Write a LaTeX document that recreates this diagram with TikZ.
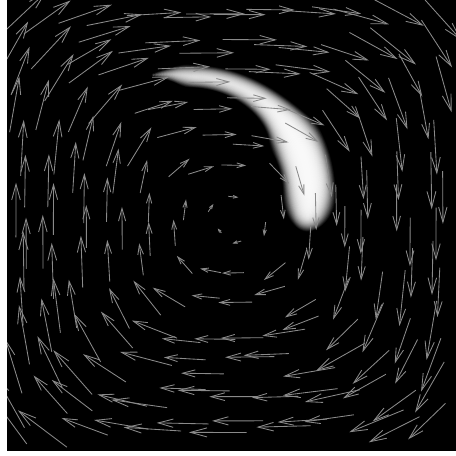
\documentclass[tikz,border=0pt]{standalone}
\usepackage{tikz}
\usetikzlibrary{arrows.meta,fadings}

\tikzfading[name=glow, inner color=transparent!0, outer color=transparent!100]

\begin{document}
\begin{tikzpicture}[
  x=1pt, y=-1pt,
  field/.style={fill=black},
  blob/.style={fill=white, opacity=0.32, path fading=glow},
  vec/.style={draw=white!54!black, line width=0.85pt},
]
\useasboundingbox (0,0) rectangle (456,456);
\fill[white] (0,0) rectangle (456,456);
\fill[field] (7,0) rectangle (456,451);

\foreach \t in {-11,...,107} {
  \pgfmathsetmacro\rise{sin(90*min(1,(\t+13)/13))}
  \pgfmathsetmacro\decay{exp(-max(0,\t-28)/20)}
  \pgfmathsetmacro\taper{min(1,(110-\t)/18)}
  \pgfmathsetmacro\h{\taper*(\rise*(1+16*\decay)+10)}
  \pgfmathsetmacro\rr{119+max(0,\t-90)*0.4}
  \pgfmathsetmacro\cx{190+\rr*cos(\t)}
  \pgfmathsetmacro\cy{195-\rr*sin(\t)}
  \fill[blob] (\cx,\cy) circle (\h pt);
}

\begin{scope}
\clip (7,0) rectangle (456,451);
\pgfmathsetseed{11}
\foreach \i in {0,...,13} \foreach \j in {0,...,13} {
  \pgfmathsetmacro\px{18+32*\i+10*rand}
  \pgfmathsetmacro\py{12+32*\j+10*rand}
  \pgfmathsetmacro\ux{(\px-230)/100}
  \pgfmathsetmacro\uy{(\py-222)/100}
  \pgfmathsetmacro\gx{\ux*(\ux*\ux+0.15)}
  \pgfmathsetmacro\gy{\uy*(\uy*\uy+0.15)}
  \pgfmathsetmacro\gn{sqrt(\gx*\gx+\gy*\gy)+0.0001}
  \pgfmathsetmacro\len{64*tanh(veclen(\ux,\uy)/1.3)*(0.9+0.1*rand)}
  \pgfmathsetmacro\dx{-\gy/\gn*\len}
  \pgfmathsetmacro\dy{\gx/\gn*\len}
  \pgfmathsetmacro\ax{\px-0.5*\dx}
  \pgfmathsetmacro\ay{\py-0.5*\dy}
  \pgfmathsetmacro\hl{0.26*\len+1.5}
  \pgfmathsetmacro\hw{0.13*\len+1.5}
  \draw[vec, -{Straight Barb[length=\hl pt, width=\hw pt]}] (\ax,\ay) -- ++(\dx,\dy);
}
\end{scope}
\end{tikzpicture}
\end{document}
